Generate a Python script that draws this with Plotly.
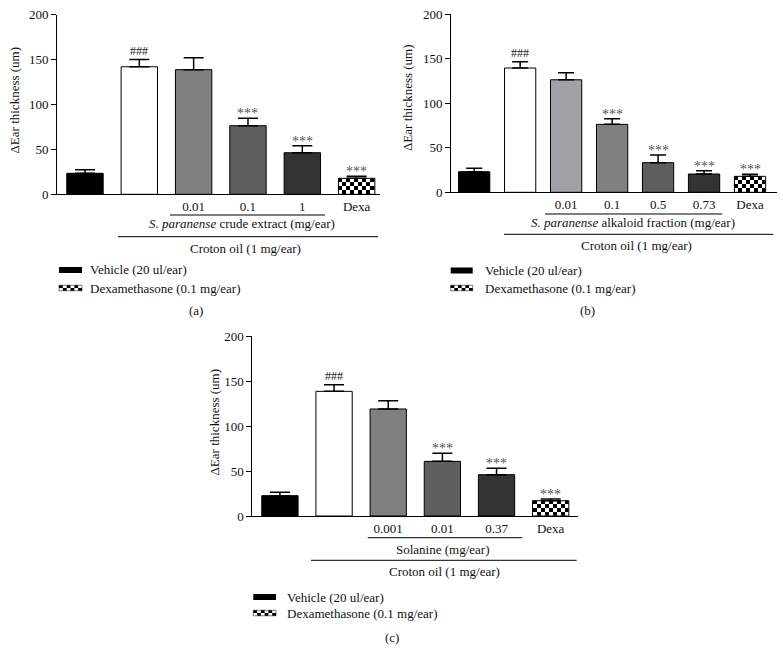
import plotly.graph_objects as go

W, H = 783, 664
FONT = "Liberation Serif"

# ---------------- data ----------------
a_labels = ["", "", "0.01", "0.1", "1", "Dexa"]
a_values = [23.4, 142.0, 138.8, 76.4, 46.3, 17.8]
a_errors = [4.0, 8.0, 13.2, 8.2, 7.8, 2.2]
a_marks = ["", "###", "", "***", "***", "***"]
a_colors = ["#000000", "#ffffff", "#7f7f7f", "#5e5e5e", "#333333", "checker"]
a_group = "<i>S. paranense</i> crude extract (mg/ear)"

b_labels = ["", "", "0.01", "0.1", "0.5", "0.73", "Dexa"]
b_values = [23.1, 139.4, 126.2, 76.2, 33.2, 20.5, 17.9]
b_errors = [3.8, 7.0, 7.9, 6.3, 8.6, 3.7, 2.3]
b_marks = ["", "###", "", "***", "***", "***", "***"]
b_colors = ["#000000", "#ffffff", "#a2a2a6", "#808080", "#5e5e5e", "#333333", "checker"]
b_group = "<i>S. paranense</i> alkaloid fraction (mg/ear)"

c_labels = ["", "", "0.001", "0.01", "0.37", "Dexa"]
c_values = [22.6, 138.5, 118.9, 60.7, 45.9, 17.0]
c_errors = [3.7, 7.4, 9.2, 8.9, 7.1, 1.9]
c_marks = ["", "###", "", "***", "***", "***"]
c_colors = ["#000000", "#ffffff", "#7f7f7f", "#5e5e5e", "#333333", "checker"]
c_group = "Solanine (mg/ear)"

common_label = "Croton oil (1 mg/ear)"
legend_labels = ["Vehicle (20 ul/ear)", "Dexamethasone (0.1 mg/ear)"]
y_ticks = [0, 50, 100, 150, 200]
y_title = "ΔEar thickness (um)"

# ---------------- layout geometry (pixels) ----------------
panels = [
    dict(name="a", labels=a_labels, values=a_values, errors=a_errors, marks=a_marks,
         colors=a_colors, group=a_group, ax="", x0=57, x1=380, ytop=14.7, ybot=194.3,
         xr=[-0.515, 5.43], bw=0.67, cap=10, ncols=9,
         g1=(170, 325, 215), g1t=(242, 224), g2=(118, 378, 236.7), g2t=(245, 248),
         leg=(59, 82, 88, 270, 288), ytl=(14.5, 100), cap_lbl=(196, 310), lbl="(a)"),
    dict(name="b", labels=b_labels, values=b_values, errors=b_errors, marks=b_marks,
         colors=b_colors, group=b_group, ax="2", x0=451, x1=776.7, ytop=14, ybot=192.3,
         xr=[-0.504, 6.58], bw=0.68, cap=8, ncols=8,
         g1=(545, 722.3, 214), g1t=(633, 223), g2=(504, 773.3, 234.3), g2t=(636.7, 245.5),
         leg=(450.7, 472.7, 483, 270.5, 288), ytl=(407.5, 97.5), cap_lbl=(587, 310), lbl="(b)"),
    dict(name="c", labels=c_labels, values=c_values, errors=c_errors, marks=c_marks,
         colors=c_colors, group=c_group, ax="3", x0=252.3, x1=578.3, ytop=336, ybot=516,
         xr=[-0.51, 5.51], bw=0.67, cap=10, ncols=9,
         g1=(367.7, 522.3, 537.7), g1t=(443, 549), g2=(311, 576.7, 560.3), g2t=(445, 571),
         leg=(253.3, 276, 285, 597, 613), ytl=(214, 422.5), cap_lbl=(391.5, 637), lbl="(c)"),
]


def PX(x):
    return x / W


def PY(y):
    return 1 - y / H


def txt_font(size=13, color="#111111"):
    return dict(family=FONT, size=size, color=color)


fig = go.Figure()
shapes = []
annotations = []

for p in panels:
    xa = "x" + p["ax"]
    ya = "y" + p["ax"]
    n = len(p["values"])
    idx = list(range(n))

    # checker fill for Dexa bar (heatmap inside bar bounds)
    for i, c in enumerate(p["colors"]):
        if c == "checker":
            v = p["values"][i]
            nc, nr = p["ncols"], 4
            xe = [i - p["bw"] / 2 + k * p["bw"] / nc for k in range(nc + 1)]
            ye = [v * j / nr for j in range(nr + 1)]
            z = [[(cc + rr) % 2 for cc in range(nc)] for rr in range(nr)]
            fig.add_trace(go.Heatmap(x=xe, y=ye, z=z, xaxis=xa, yaxis=ya,
                                     colorscale=[[0, "#ffffff"], [1, "#000000"]],
                                     showscale=False, hoverinfo="skip"))

    colors = ["rgba(0,0,0,0)" if c == "checker" else c for c in p["colors"]]
    fig.add_trace(go.Bar(
        x=idx, y=p["values"], xaxis=xa, yaxis=ya, width=p["bw"],
        marker=dict(color=colors, line=dict(color="#000000", width=1)),
        error_y=dict(type="data", array=p["errors"], arrayminus=[0] * n, symmetric=False,
                     color="#000000", thickness=1.5, width=p["cap"]),
        showlegend=False))

    for i, m in enumerate(p["marks"]):
        if m:
            star = m == "***"
            annotations.append(dict(
                x=i, y=p["values"][i] + p["errors"][i], xref=xa, yref=ya, text=m,
                showarrow=False, xanchor="center", yanchor="bottom",
                yshift=-5 if star else 0,
                font=txt_font(14 if star else 12, "#555555" if star else "#222222")))

    tv = [i for i, l in enumerate(p["labels"]) if l]
    tt = [l for l in p["labels"] if l]
    fig.update_layout(**{
        "xaxis" + p["ax"]: dict(domain=[PX(p["x0"]), PX(p["x1"])], range=p["xr"],
                                anchor=ya, tickvals=tv, ticktext=tt, ticks="",
                                showline=True, linecolor="#000000", linewidth=1,
                                showgrid=False, zeroline=False, automargin=False,
                                tickfont=txt_font()),
        "yaxis" + p["ax"]: dict(domain=[PY(p["ybot"]), PY(p["ytop"])], range=[0, 200],
                                anchor=xa, tickvals=y_ticks, ticks="outside", ticklen=5,
                                tickcolor="#000000", showline=True, linecolor="#000000",
                                linewidth=1, showgrid=False, zeroline=False, automargin=False,
                                tickfont=txt_font()),
    })

    def add_text(x, y, text, xanchor="center", **kw):
        annotations.append(dict(x=PX(x), y=PY(y), xref="paper", yref="paper", text=text,
                                showarrow=False, xanchor=xanchor, yanchor="middle",
                                font=txt_font(), **kw))

    # y title
    add_text(p["ytl"][0], p["ytl"][1], y_title, textangle=-90)
    # group brackets
    for (gx0, gx1, gy) in (p["g1"], p["g2"]):
        shapes.append(dict(type="line", xref="paper", yref="paper", x0=PX(gx0), x1=PX(gx1),
                           y0=PY(gy), y1=PY(gy), line=dict(color="#000000", width=1)))
    add_text(p["g1t"][0], p["g1t"][1], p["group"])
    add_text(p["g2t"][0], p["g2t"][1], common_label)
    # legend swatches
    lx0, lx1, ltx, ly1, ly2 = p["leg"]
    shapes.append(dict(type="rect", xref="paper", yref="paper", x0=PX(lx0), x1=PX(lx1),
                       y0=PY(ly1 + 3), y1=PY(ly1 - 3), fillcolor="#000000",
                       line=dict(width=0)))
    shapes.append(dict(type="rect", xref="paper", yref="paper", x0=PX(lx0), x1=PX(lx1),
                       y0=PY(ly2 + 2.75), y1=PY(ly2 - 2.75), fillcolor="#ffffff",
                       line=dict(width=0.5, color="#000000")))
    cw = (lx1 - lx0) / 6
    for cc in range(6):
        for rr in range(2):
            if (cc + rr) % 2 == 0:
                shapes.append(dict(type="rect", xref="paper", yref="paper",
                                   x0=PX(lx0 + cc * cw), x1=PX(lx0 + (cc + 1) * cw),
                                   y0=PY(ly2 - 2.75 + (rr + 1) * 2.75),
                                   y1=PY(ly2 - 2.75 + rr * 2.75),
                                   fillcolor="#000000", line=dict(width=0)))
    for t, ly in zip(legend_labels, (ly1, ly2)):
        add_text(ltx, ly, t, xanchor="left")
    add_text(p["cap_lbl"][0], p["cap_lbl"][1], p["lbl"])

fig.update_layout(width=W, height=H, margin=dict(l=0, r=0, t=0, b=0, pad=0), autosize=False,
                  paper_bgcolor="#ffffff", plot_bgcolor="#ffffff", showlegend=False,
                  shapes=shapes, annotations=annotations, barmode="overlay")

fig.write_html("out.html", config={"displayModeBar": False},
               post_script="document.body.style.margin='0';")
